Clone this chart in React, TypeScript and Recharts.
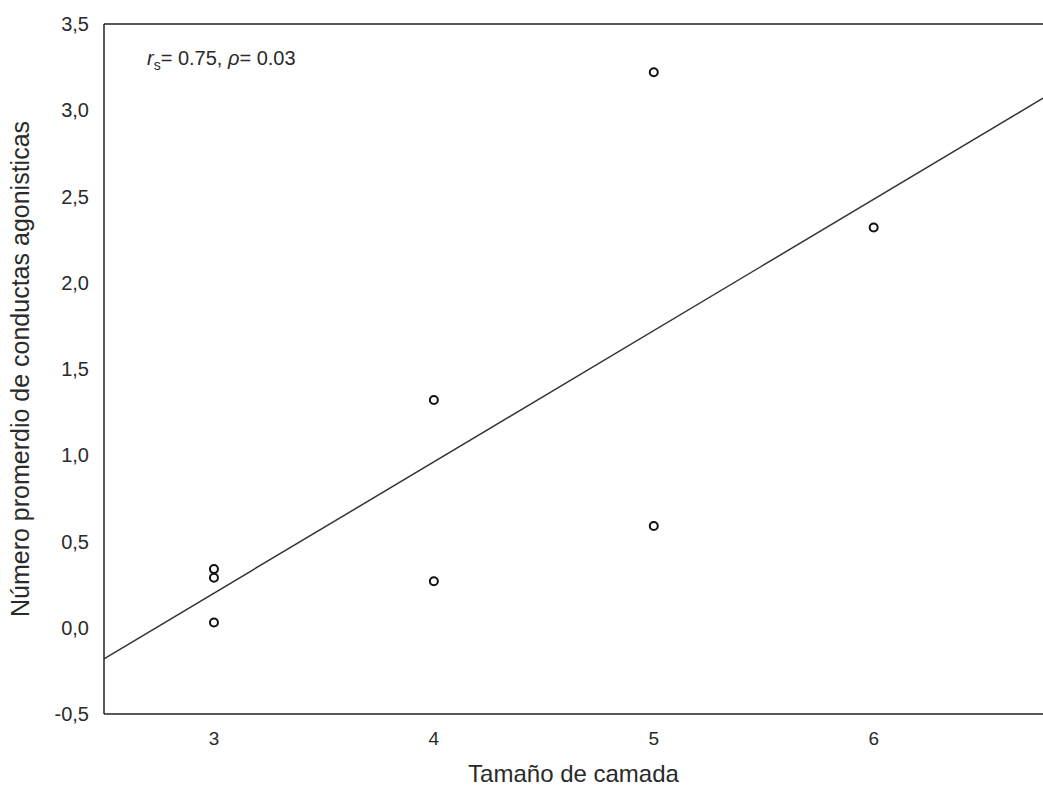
import React from "react"
import {
  ScatterChart,
  Scatter,
  XAxis,
  YAxis,
  ReferenceLine,
} from "recharts"

const litterSize = [3, 3, 3, 4, 4, 5, 5, 6]
const agonistic = [0.03, 0.29, 0.34, 0.27, 1.32, 0.59, 3.22, 2.32]
const xTicks = [3, 4, 5, 6]
const yTicks = [-0.5, 0, 0.5, 1, 1.5, 2, 2.5, 3, 3.5]
const fitX = [2.5, 6.77]
const fitY = [-0.18, 3.07]

const points = litterSize.map((x, i) => ({ x, y: agonistic[i] }))

const font = "'Liberation Sans', Arial, sans-serif"

const Dot = (props: any) => {
  const { cx, cy } = props
  return <circle cx={cx} cy={cy} r={4} fill="#fff" stroke="#111" strokeWidth={2} />
}

const App: React.FC = () => {
  return (
    <div style={{ position: "absolute", left: 0, top: 0, width: 1043, height: 793, background: "#fff", fontFamily: font }}>
      <ScatterChart width={1043} height={793} margin={{ top: 24, right: 0, bottom: 0, left: 0 }}>
        <XAxis
          type="number"
          dataKey="x"
          domain={[2.5, 6.77]}
          ticks={xTicks}
          tickLine={false}
          tickMargin={12}
          height={79}
          axisLine={{ stroke: "#222", strokeWidth: 1.5 }}
          tick={{ fill: "#2a2a2a", fontSize: 19, fontFamily: font }}
          label={{ value: "Tamaño de camada", position: "insideBottom", offset: 11, fill: "#2a2a2a", fontSize: 24, fontFamily: font }}
        />
        <YAxis
          type="number"
          dataKey="y"
          domain={[-0.5, 3.5]}
          ticks={yTicks}
          width={104}
          tickLine={false}
          tickMargin={9}
          axisLine={{ stroke: "#222", strokeWidth: 1.5 }}
          tick={{ fill: "#2a2a2a", fontSize: 20, fontFamily: font }}
          tickFormatter={(v: number) => v.toFixed(1).replace(".", ",")}
          label={{
            value: "Número promerdio de conductas agonisticas",
            angle: -90,
            position: "insideLeft",
            offset: 20,
            fill: "#2a2a2a",
            fontSize: 25,
            fontFamily: font,
            style: { textAnchor: "middle" },
          }}
        />
        <ReferenceLine y={3.5} stroke="#222" strokeWidth={1.5} />
        <ReferenceLine
          segment={[
            { x: fitX[0], y: fitY[0] },
            { x: fitX[1], y: fitY[1] },
          ]}
          stroke="#333"
          strokeWidth={1.5}
        />
        <Scatter data={points} shape={<Dot />} isAnimationActive={false} />
      </ScatterChart>
      <div style={{ position: "absolute", left: 147, top: 47, fontSize: 20, color: "#2a2a2a", whiteSpace: "nowrap" }}>
        <i>r</i>
        <sub style={{ fontSize: 14 }}>s</sub>= 0.75, <i>ρ</i>= 0.03
      </div>
    </div>
  )
}

export default App
